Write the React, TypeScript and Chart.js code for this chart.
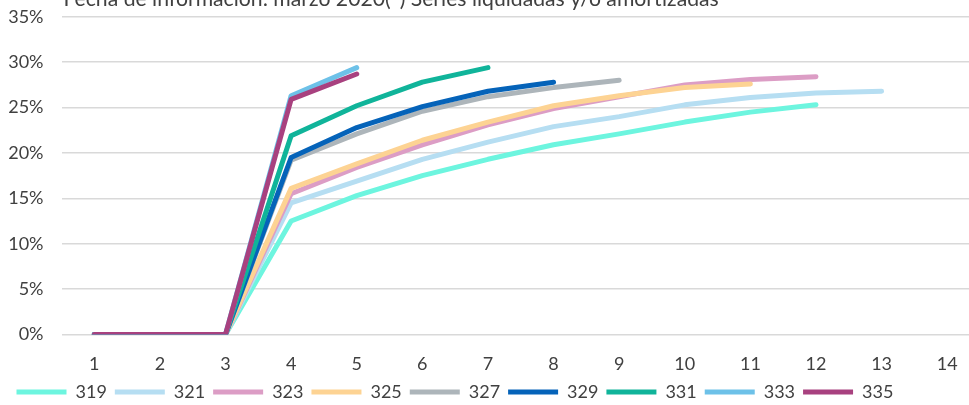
import React, { useEffect, useRef } from "react";
import { Chart, registerables } from "chart.js";

Chart.register(...registerables);

const TITLE = "Fecha de información: marzo 2020(*) Series liquidadas y/o amortizadas";
const categories = ["1", "2", "3", "4", "5", "6", "7", "8", "9", "10", "11", "12", "13", "14"];
const yTicks = [0, 5, 10, 15, 20, 25, 30, 35];

const seriesNames = ["319", "321", "323", "325", "327", "329", "331", "333", "335"];
const seriesColors = ["#6df5df", "#b6def2", "#dc9dc5", "#fdd393", "#adb5ba", "#0563b9", "#10b49a", "#6dc1e8", "#a8417f"];

const s319 = [0, 0, 0, 12.5, 15.3, 17.5, 19.3, 20.9, 22.1, 23.4, 24.5, 25.3];
const s321 = [0, 0, 0, 14.5, 16.9, 19.3, 21.2, 22.9, 24.0, 25.3, 26.1, 26.6, 26.8];
const s323 = [0, 0, 0, 15.5, 18.4, 20.9, 23.1, 24.9, 26.2, 27.5, 28.1, 28.4];
const s325 = [0, 0, 0, 16.1, 18.8, 21.4, 23.4, 25.2, 26.3, 27.2, 27.6];
const s327 = [0, 0, 0, 19.2, 22.1, 24.6, 26.2, 27.2, 28.0];
const s329 = [0, 0, 0, 19.5, 22.8, 25.1, 26.8, 27.8];
const s331 = [0, 0, 0, 21.9, 25.2, 27.8, 29.4];
const s333 = [0, 0, 0, 26.3, 29.4];
const s335 = [0, 0, 0, 25.9, 28.7];

const seriesData = [s319, s321, s323, s325, s327, s329, s331, s333, s335];

const titlePlugin = {
  id: "topTitle",
  afterDraw(chart: any) {
    const { ctx, chartArea } = chart;
    ctx.save();
    ctx.font = "21.2px Lato";
    ctx.fillStyle = "#404040";
    ctx.textAlign = "left";
    ctx.textBaseline = "alphabetic";
    ctx.fillText(TITLE, chartArea.left + 2, chartArea.top - 11);
    ctx.restore();
  },
};

export default function App() {
  const ref = useRef<HTMLCanvasElement | null>(null);

  useEffect(() => {
    if (!ref.current) return;
    const chart = new Chart(ref.current, {
      type: "line",
      data: {
        labels: categories,
        datasets: seriesNames.map((name, i) => ({
          label: name,
          data: seriesData[i],
          borderColor: seriesColors[i],
          backgroundColor: seriesColors[i],
          borderWidth: 5,
          borderCapStyle: "round" as const,
          borderJoinStyle: "round" as const,
          pointRadius: 0,
          pointHoverRadius: 0,
          tension: 0,
          fill: false,
          order: seriesNames.length - i,
        })),
      },
      options: {
        responsive: false,
        animation: false,
        events: [],
        layout: { padding: { top: 4, left: 8.5, right: 0, bottom: 0 } },
        font: { family: "Lato", size: 18 } as any,
        plugins: {
          legend: {
            position: "bottom",
            align: "start",
            labels: {
              usePointStyle: true,
              pointStyle: "line",
              pointStyleWidth: 50,
              boxHeight: 18,
              padding: 8,
              color: "#404040",
              font: { family: "Lato", size: 18 },
              sort: (a: any, b: any) => a.datasetIndex - b.datasetIndex,
            },
          },
          title: { display: false },
          tooltip: { enabled: false },
        },
        scales: {
          x: {
            type: "category",
            offset: true,
            border: { display: false },
            grid: { display: false, drawTicks: false },
            ticks: {
              autoSkip: false,
              maxRotation: 0,
              padding: 19,
              color: "#404040",
              font: { family: "Lato", size: 18 },
            },
            afterFit: (scale: any) => {
              scale.height = 40.5;
            },
          },
          y: {
            min: 0,
            max: 35,
            border: { display: false },
            grid: { color: "#d9d9d9", lineWidth: 1.5, drawTicks: false },
            afterBuildTicks: (scale: any) => {
              scale.ticks = yTicks.map((v) => ({ value: v }));
            },
            ticks: {
              padding: 18,
              color: "#404040",
              font: { family: "Lato", size: 18 },
              callback: (v: any) => `${v}%`,
            },
            afterFit: (scale: any) => {
              scale.width = 53;
            },
          },
        },
      },
      plugins: [titlePlugin],
    });
    return () => chart.destroy();
  }, []);

  return (
    <div style={{ position: "fixed", left: 0, top: 0, width: 969, height: 405, overflow: "hidden", background: "#fff" }}>
      <canvas ref={ref} width={980} height={423} style={{ position: "absolute", left: 0, top: -12, width: 980, height: 423 }} />
    </div>
  );
}
